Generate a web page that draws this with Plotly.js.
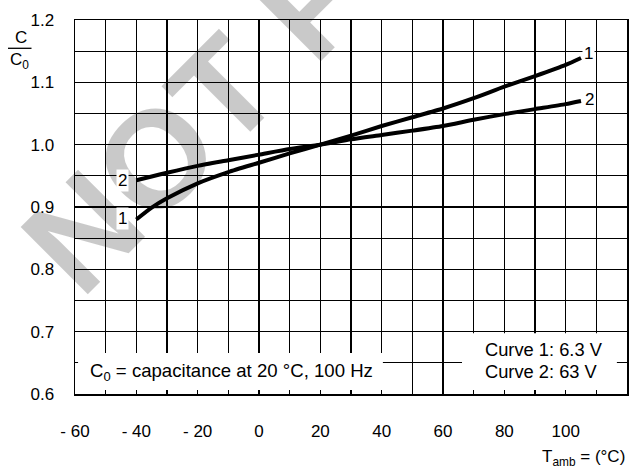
<!DOCTYPE html>
<html>
<head>
<meta charset="utf-8">
<script src="https://cdn.plot.ly/plotly-3.0.1.min.js"></script>
<style>html,body{margin:0;padding:0;background:#fff;}#chart{width:641px;height:468px;}</style>
</head>
<body>
<div id="chart"></div>
<script>
// ---- data ----
var temps   = [-40, -35, -30, -20, -10, 0, 10, 20, 30, 40, 50, 60, 70, 80, 90, 100, 105];
var curve1  = [0.880, 0.899, 0.914, 0.938, 0.956, 0.971, 0.986, 1.000, 1.0144, 1.030, 1.044, 1.058, 1.0745, 1.093, 1.110, 1.128, 1.139];
var curve2  = [0.943, 0.949, 0.955, 0.966, 0.975, 0.984, 0.993, 1.000, 1.0086, 1.0155, 1.0225, 1.030, 1.040, 1.049, 1.057, 1.065, 1.070];
var xTickVals = [-60, -40, -20, 0, 20, 40, 60, 80, 100, 120];
var xTickText = ['- 60', '- 40', '- 20', '0', '20', '40', '60', '80', '100', '120'];
var yTickVals = [0.6, 0.7, 0.8, 0.9, 1.0, 1.1, 1.2];
var yTickText = ['0.6', '0.7', '0.8', '0.9', '1.0', '1.1', '1.2'];
var noteText   = 'C<sub>0</sub> = capacitance at 20 °C, 100 Hz';
var curveNotes = ['Curve 1: 6.3 V', 'Curve 2: 63 V'];
var watermark  = 'NOT FOR NEW DESIGN';

var FONT = 'Liberation Sans, Arial, Helvetica, sans-serif';

var lineStyle = {color: '#000', width: 4, shape: 'spline', smoothing: 0.6};
var traces = [
  {x: temps, y: curve1, mode: 'lines', line: lineStyle, hoverinfo: 'skip', name: '1'},
  {x: temps, y: curve2, mode: 'lines', line: lineStyle, hoverinfo: 'skip', name: '2'}
];

function lbl(x, y, t) {
  return {x: x, y: y, xref: 'x', yref: 'y', text: t, showarrow: false,
          bgcolor: '#fff', borderpad: 1, font: {family: FONT, size: 17, color: '#000'}};
}

var annotations = [
  // watermark (drawn translucent so the grid reads as lying on top of it)
  {xref: 'paper', yref: 'paper', x: 0.942, y: 1.806, text: watermark, showarrow: false,
   textangle: -45, xanchor: 'center', yanchor: 'middle',
   font: {family: FONT, size: 138, color: 'rgba(0,0,0,0.21)', weight: 700}},
  lbl(-44.5, 0.9422, '2'),
  lbl(-44.5, 0.8819, '1'),
  lbl(107.4, 1.1455, '1'),
  lbl(107.7, 1.0728, '2'),
  {xref: 'x', yref: 'y', x: -55.6, y: 0.6358, xanchor: 'left', yanchor: 'middle', text: noteText,
   showarrow: false, font: {family: FONT, size: 18.6, color: '#000'}},
  {xref: 'x', yref: 'y', x: 73.0, y: 0.6706, xanchor: 'left', yanchor: 'middle', text: curveNotes[0],
   showarrow: false, font: {family: FONT, size: 18.3, color: '#000'}},
  {xref: 'x', yref: 'y', x: 73.0, y: 0.6358, xanchor: 'left', yanchor: 'middle', text: curveNotes[1],
   showarrow: false, font: {family: FONT, size: 18.3, color: '#000'}},
  // x-axis title
  {xref: 'paper', yref: 'paper', x: 1.0, y: -0.172, xanchor: 'right', yanchor: 'middle',
   text: 'T<sub>amb</sub> = (°C)', showarrow: false, font: {family: FONT, size: 17, color: '#000'}},
  // y-axis title (fraction)
  {xref: 'paper', yref: 'paper', x: (20.5 - 75) / 552, y: (394 - 37.5) / 374, xanchor: 'center', yanchor: 'middle',
   text: 'C', showarrow: false, font: {family: FONT, size: 17, color: '#000'}},
  {xref: 'paper', yref: 'paper', x: (19 - 75) / 552, y: (394 - 61) / 374, xanchor: 'center', yanchor: 'middle',
   text: 'C<sub>0</sub>', showarrow: false, font: {family: FONT, size: 17, color: '#000'}}
];

var shapes = [
  {type: 'rect', xref: 'x', yref: 'y', x0: -59.0, x1: 40.4, y0: 0.6064, y1: 0.6658,
   fillcolor: '#fff', line: {width: 0}, layer: 'above'},
  {type: 'rect', xref: 'x', yref: 'y', x0: 66.2, x1: 116.7, y0: 0.6064, y1: 0.6975,
   fillcolor: '#fff', line: {width: 0}, layer: 'above'},
  {type: 'line', xref: 'paper', yref: 'paper', x0: (8 - 75) / 552, x1: (31.5 - 75) / 552,
   y0: (394 - 48.3) / 374, y1: (394 - 48.3) / 374, line: {color: '#000', width: 1.3}}
];

var layout = {
  width: 641, height: 468,
  margin: {l: 75, r: 14, t: 20, b: 74, pad: 0},
  paper_bgcolor: '#fff', plot_bgcolor: 'rgba(0,0,0,0)',
  showlegend: false,
  font: {family: FONT, size: 17, color: '#000'},
  xaxis: {
    range: [-60, 120], tickmode: 'array', tickvals: xTickVals, ticktext: xTickText,
    showgrid: true, gridcolor: '#000', gridwidth: 1.2,
    minor: {tickmode: 'linear', tick0: -60, dtick: 10, showgrid: true, gridcolor: '#000', gridwidth: 1.2, ticks: ''},
    showline: true, mirror: true, linecolor: '#000', linewidth: 1.5,
    zeroline: false, ticks: '', ticklabelstandoff: 21,
    tickfont: {family: FONT, size: 17, color: '#000'}, fixedrange: true
  },
  yaxis: {
    range: [0.6, 1.2], tickmode: 'array', tickvals: yTickVals, ticktext: yTickText,
    showgrid: true, gridcolor: '#000', gridwidth: 1.2,
    minor: {tickmode: 'linear', tick0: 0.6, dtick: 0.05, showgrid: true, gridcolor: '#000', gridwidth: 1.2, ticks: ''},
    showline: true, mirror: true, linecolor: '#000', linewidth: 1.5,
    zeroline: false, ticks: '', ticklabelstandoff: 16,
    tickfont: {family: FONT, size: 17, color: '#000'}, fixedrange: true
  },
  annotations: annotations,
  shapes: shapes
};

Plotly.newPlot('chart', traces, layout, {staticPlot: true, displayModeBar: false});
</script>
</body>
</html>
